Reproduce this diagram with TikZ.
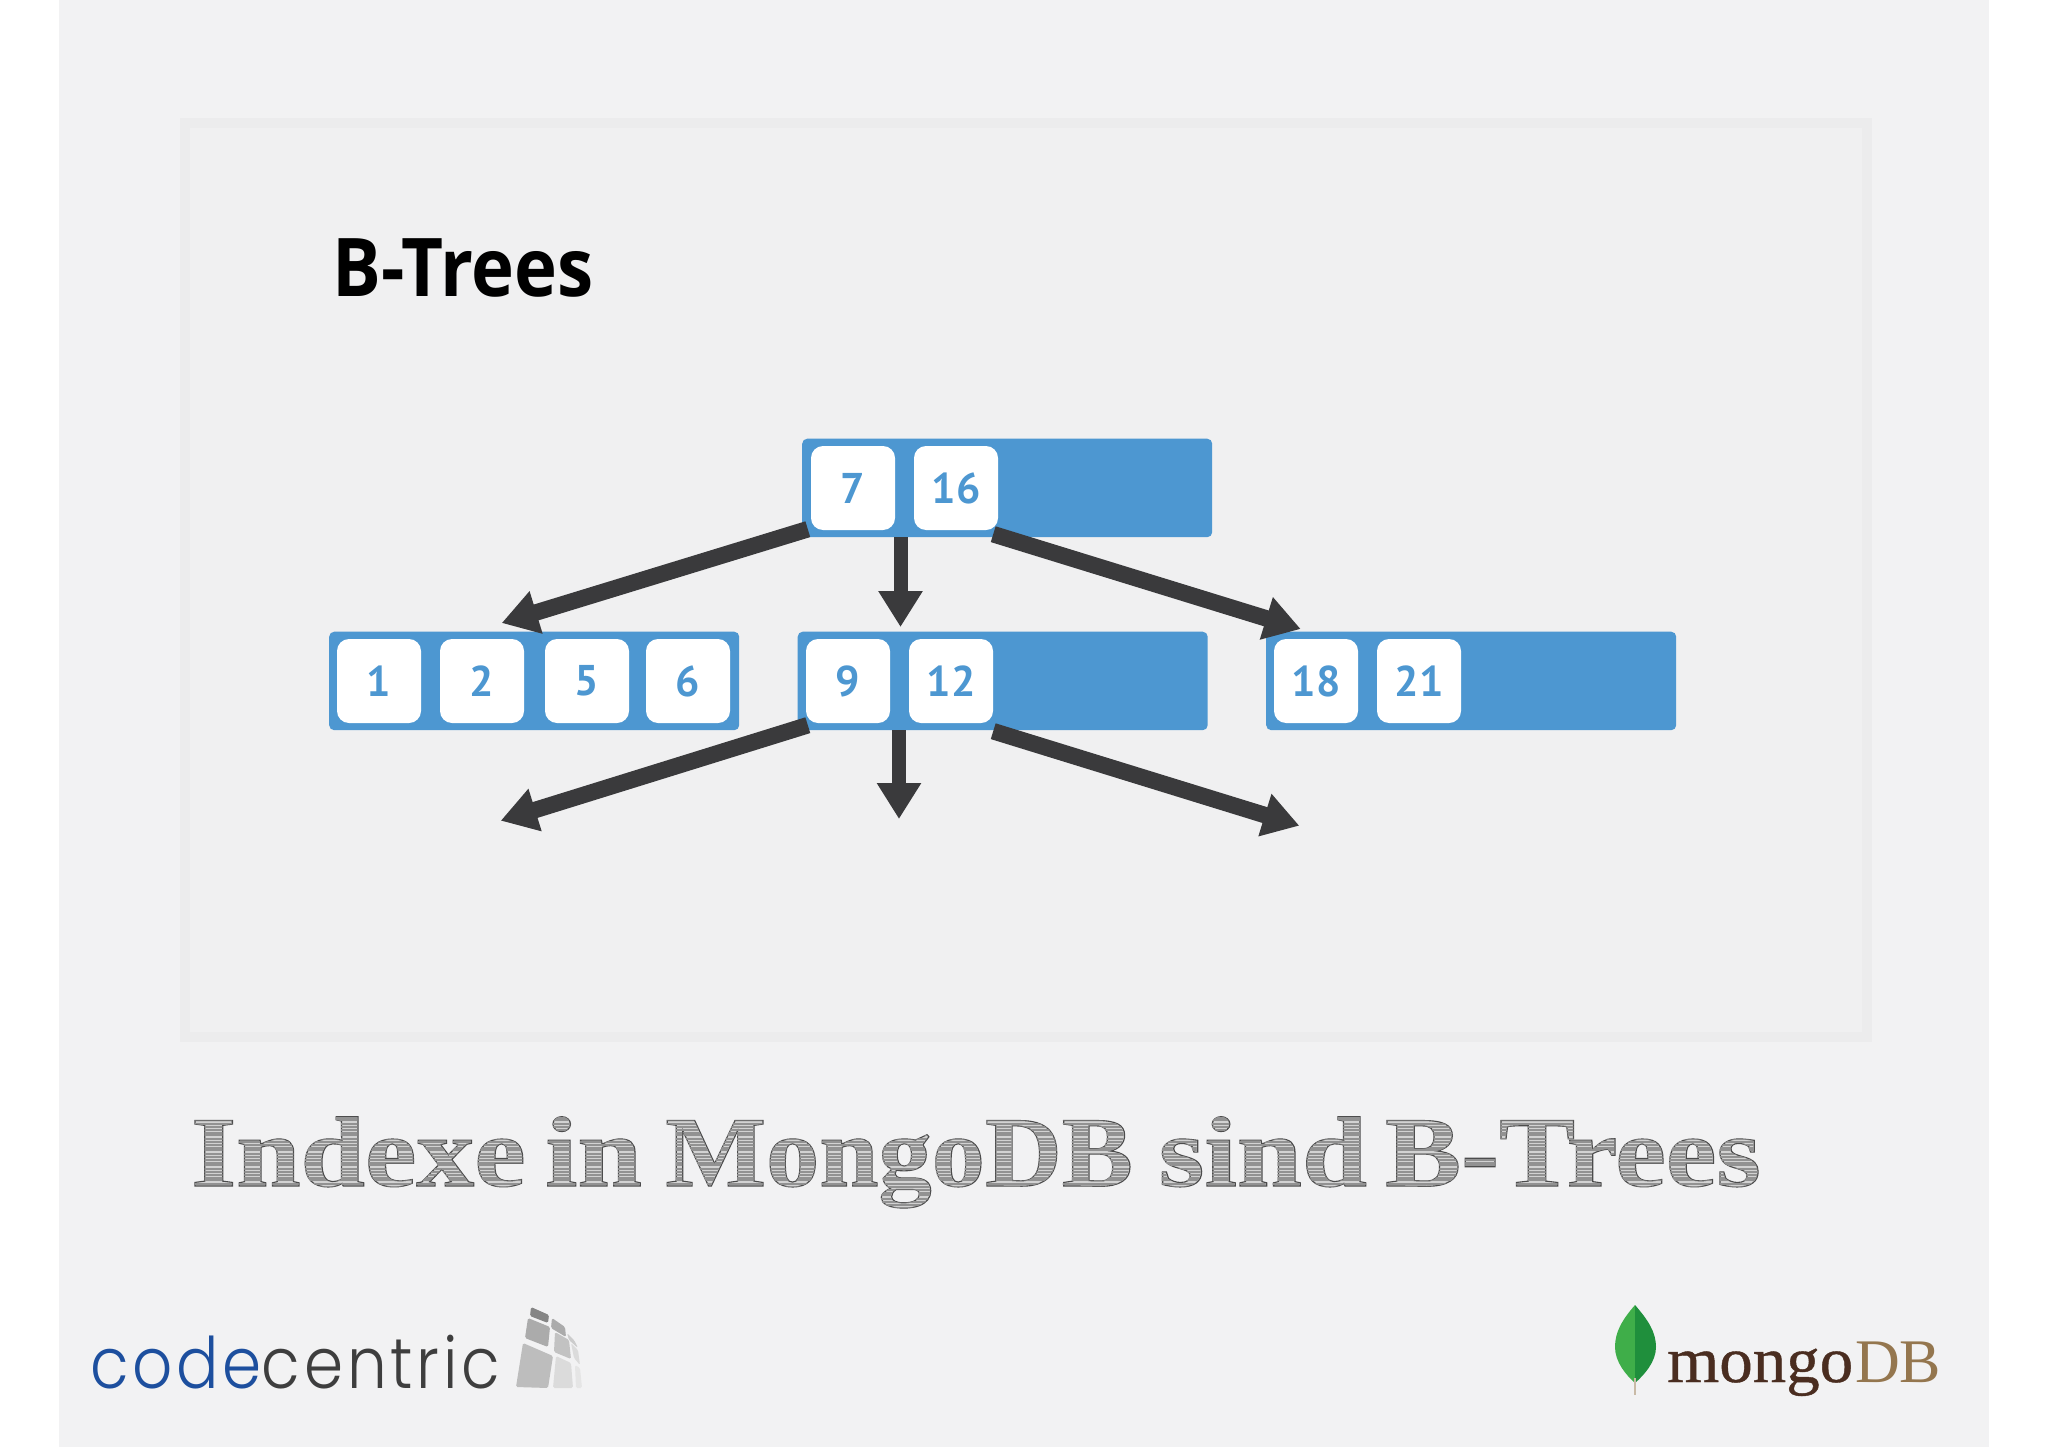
\documentclass[tikz,border=0pt]{standalone}
\usepackage{fontspec}
\usetikzlibrary{arrows.meta,calc}
\setmainfont{PT Sans}
\newfontfamily\titlefont{Open Sans}
\newfontfamily\digitfont{PT Sans}
\newfontfamily\sketchfont{Liberation Serif}
\newfontfamily\ccfont[LetterSpace=6]{Poppins Light}
\newfontfamily\mongofont{Liberation Serif}
\definecolor{pagebg}{HTML}{F2F2F3}
\definecolor{innerbg}{HTML}{F0F0F1}
\definecolor{framecol}{HTML}{ECECED}
\definecolor{barblue}{HTML}{4D97D1}
\definecolor{arrowcol}{HTML}{3A3A3C}
\definecolor{sketchfill}{HTML}{D2D2D2}
\definecolor{sketchhatch}{HTML}{929292}
\definecolor{ccblue}{HTML}{1D4F9E}
\definecolor{ccgray}{HTML}{3E3E3E}
\definecolor{leafl}{HTML}{3FAE49}
\definecolor{leafr}{HTML}{1F8F3C}
\definecolor{mongobrown}{HTML}{4A2D20}
\definecolor{dbbrown}{HTML}{94764E}
\pgfdeclarelayer{bg}
\pgfsetlayers{bg,main}
\tikzset{
  barbox/.style={fill=barblue,rounded corners=5pt,minimum width=410pt,minimum height=98.5pt,inner sep=0pt,anchor=north west},
  cellbox/.style={fill=white,rounded corners=12pt,minimum width=84pt,minimum height=84pt,inner sep=0pt,text=barblue,font=\digitfont\bfseries\fontsize{43}{43}\selectfont},
  treearrow/.style={draw=arrowcol,line width=14pt,-{Triangle[length=36pt,width=42pt]}},
  slantarrow/.style={treearrow,line width=16.5pt},
  plainlabel/.style={inner sep=0pt,anchor=base west},
  tile/.style={rounded corners=1.5pt}
}
\newcommand{\skpre}{}
\newcommand{\skw}[2]{\scalebox{#1}[1.0]{\skpre #2}}
\newcommand{\sketchtext}{\sketchfont\bfseries\fontsize{100}{100}\selectfont
  \skw{1.158}{Indexe}\hspace{19.5pt}\skw{1.16}{in}\hspace{23.5pt}\skw{1.065}{MongoDB}\hspace{26pt}\skw{1.17}{sind}\hspace{18pt}\skw{1.14}{B-Trees}}
\begin{document}
\begin{tikzpicture}[x=1pt,y=-1pt]
\useasboundingbox (0,0) rectangle (2048,1447);
\begin{pgfonlayer}{bg}
  \fill[white] (0,0) rectangle (2048,1447);
  \fill[pagebg] (59,0) rectangle (1989,1447);
  \fill[innerbg,draw=framecol,line width=10pt] (185,123) rectangle (1867,1037);
  \node[barbox] (root) at (802,438.5) {};
  \node[barbox] (leafa) at (329,631.5) {};
  \node[barbox] (leafb) at (797.5,631.5) {};
  \node[barbox] (leafc) at (1266,631.5) {};
\end{pgfonlayer}
\node[plainlabel] (title) at (332,297) {\scalebox{0.897}[1]{\titlefont\bfseries\fontsize{81}{81}\selectfont B-Trees}};
% cells
\node[cellbox] (n7) at (853,488) {7};
\node[cellbox] (n16) at (956,488) {16};
\node[cellbox] (c1) at (379,681) {1};
\node[cellbox] (c2) at (482,681) {2};
\node[cellbox] (c5) at (587,681) {5};
\node[cellbox] (c6) at (688,681) {6};
\node[cellbox] (n9) at (848,681) {9};
\node[cellbox] (n12) at (951,681) {12};
\node[cellbox] (c18) at (1316,681) {18};
\node[cellbox] (c21) at (1419,681) {21};
% free arrow ends
\coordinate (ra) at (501.7,623);
\coordinate (rm) at (900.5,627);
\coordinate (rb) at (1300.7,629);
\coordinate (ma) at (500.7,820.7);
\coordinate (mm) at (899,819);
\coordinate (mb) at (1299.3,825.7);
% arrows lie on the bars, beneath the cells
\begin{pgfonlayer}{bg}
  \draw[slantarrow] ($(n7.south west)+(-3,-1)$) -- (ra);
  \draw[treearrow] (rm |- root.south) -- (rm);
  \draw[slantarrow] ($(n16.south east)+(-5,4)$) -- (rb);
  \draw[slantarrow] ($(n9.south west)+(2,2)$) -- (ma);
  \draw[treearrow] (mm |- leafb.south) -- (mm);
  \draw[slantarrow] ($(n12.south east)+(0,8)$) -- (mb);
\end{pgfonlayer}
% sketch headline
\node[plainlabel,text=sketchfill] (headline) at (191,1186) {\renewcommand{\skpre}{\special{pdf:code 2 Tr 1.1 w 0.3 0.3 0.3 RG}}\sketchtext\special{pdf:code 0 Tr}};
\begin{scope}
  \clip \foreach \yy [evaluate=\yy as \hh using {0.8+mod(\yy*7,5)*0.3}] in {1105,1108,...,1225} {(180,\yy) rectangle (1780,\yy+\hh)};
  \node[plainlabel,text=sketchhatch] at (191,1186) {\sketchtext};
\end{scope}
% codecentric logo
\node[plainlabel] (cclogo) at (90,1388) {\scalebox{0.885}[1]{\ccfont\fontsize{71}{71}\selectfont\textcolor{ccblue}{code}\textcolor{ccgray}{centric}}};
\fill[tile,fill=black!26] (523,1343) -- (553,1356) -- (548,1388) -- (516,1387) -- cycle;
\fill[tile,fill=black!14] (556,1356) -- (571,1363) -- (573,1388) -- (553,1388) -- cycle;
\fill[tile,fill=black!10] (575,1365) -- (580,1368) -- (582,1388) -- (576,1388) -- cycle;
\fill[tile,fill=black!33] (528,1318) -- (550,1327) -- (548,1347) -- (525,1338) -- cycle;
\fill[tile,fill=black!24] (555,1332) -- (569,1340) -- (571,1359) -- (554,1352) -- cycle;
\fill[tile,fill=black!14] (571,1343) -- (578,1350) -- (580,1365) -- (574,1358) -- cycle;
\fill[tile,fill=black!48] (531,1307) -- (549,1315) -- (548,1323) -- (530,1316) -- cycle;
\fill[tile,fill=black!33] (552,1318) -- (565,1327) -- (566,1337) -- (551,1328) -- cycle;
\fill[tile,fill=black!20] (567,1333) -- (574,1340) -- (578,1348) -- (569,1340) -- cycle;
% mongodb logo
\fill[leafl] (1635,1305) .. controls (1622,1320) and (1615,1332) .. (1615,1347) .. controls (1615,1362) and (1626,1375) .. (1635,1383) -- cycle;
\fill[leafr] (1635,1305) .. controls (1648,1320) and (1656,1332) .. (1656,1347) .. controls (1656,1362) and (1644,1375) .. (1635,1383) -- cycle;
\draw[line width=1.6pt,color=dbbrown!50!white] (1635,1378) -- (1635,1395);
\node[plainlabel,text=mongobrown] (mongoword) at (1667,1382) {\special{pdf:code 2 Tr 0.4 w 0.29 0.18 0.125 RG}\scalebox{1.03}[1]{\mongofont\fontsize{65}{65}\selectfont mongo}\special{pdf:code 0 Tr}};
\node[plainlabel,text=dbbrown] (dbword) at (1855,1382) {\mongofont\fontsize{62}{62}\selectfont DB};
\end{tikzpicture}
\end{document}
